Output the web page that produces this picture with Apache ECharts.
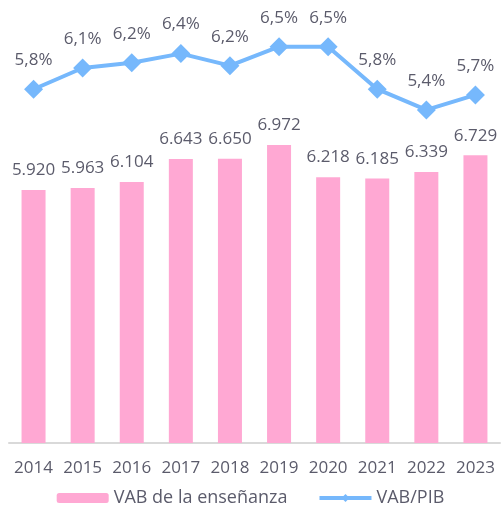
<!DOCTYPE html>
<html>
<head>
<meta charset="utf-8">
<script src="https://cdn.jsdelivr.net/npm/echarts@6/dist/echarts.min.js"></script>
<style>
  html, body { margin: 0; padding: 0; background: #fff; }
  #main { width: 501px; height: 514px; }
</style>
</head>
<body>
<div id="main"></div>
<script>
const years = ['2014', '2015', '2016', '2017', '2018', '2019', '2020', '2021', '2022', '2023'];
// VAB de la enseñanza (millones)
const vab = [5920, 5963, 6104, 6643, 6650, 6972, 6218, 6185, 6339, 6729];
// VAB/PIB (%)
const ratio = [5.76, 6.13, 6.22, 6.38, 6.17, 6.5, 6.5, 5.76, 5.4, 5.66];

const textColor = '#5b5b6b';
const font = 'Open Sans';

const chart = echarts.init(document.getElementById('main'));

chart.setOption({
    animation: false,
    textStyle: { fontFamily: font },
    grid: { left: 9, right: 1, top: 18, bottom: 71, containLabel: false },
    legend: {
        bottom: 2,
        left: 'center',
        itemWidth: 52,
        itemHeight: 10,
        itemGap: 30,
        lineStyle: { width: 4 },
        textStyle: { color: textColor, fontSize: 18, fontFamily: font },
        data: ['VAB de la enseñanza', 'VAB/PIB']
    },
    xAxis: {
        type: 'category',
        data: years,
        axisLine: { lineStyle: { color: '#d9d9d9', width: 2 } },
        axisTick: { show: false },
        axisLabel: { interval: 0, color: textColor, fontSize: 17, margin: 17, fontFamily: font }
    },
    yAxis: [
        { type: 'value', min: 0, max: 9940, show: false, splitLine: { show: false } },
        { type: 'value', min: -0.4, max: 7, show: false, splitLine: { show: false } }
    ],
    series: [
        {
            name: 'VAB de la enseñanza',
            type: 'bar',
            data: vab,
            barWidth: 24,
            itemStyle: { color: '#ffa8d3' },
            label: {
                show: true,
                position: 'top',
                distance: 11,
                color: textColor,
                fontSize: 17,
                fontFamily: font,
                formatter: p => p.value.toLocaleString('de-DE')
            }
        },
        {
            name: 'VAB/PIB',
            type: 'line',
            yAxisIndex: 1,
            data: ratio,
            symbol: 'diamond',
            symbolSize: 19,
            lineStyle: { color: '#76b8fc', width: 4 },
            itemStyle: { color: '#76b8fc' },
            label: {
                show: true,
                position: 'top',
                distance: 11,
                color: textColor,
                fontSize: 17,
                fontFamily: font,
                formatter: p => p.value.toFixed(1).replace('.', ',') + '%'
            }
        }
    ]
});
</script>
</body>
</html>
